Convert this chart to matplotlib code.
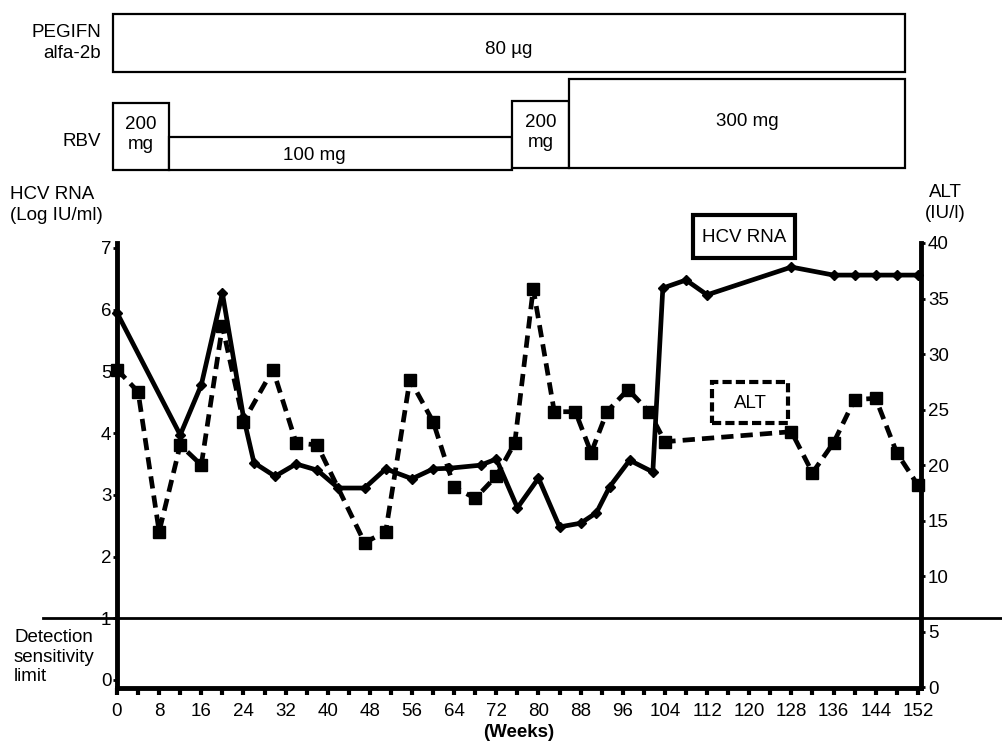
import numpy as np
import matplotlib
matplotlib.use("Agg")
import matplotlib.pyplot as plt
from matplotlib.patches import Rectangle

plt.rcParams['font.family'] = ['Liberation Sans', 'DejaVu Sans']

# ============================================
# DATA
# ============================================

hcv_weeks = [0, 12, 16, 20, 24, 26, 30, 34, 38, 42, 47, 51, 56, 60, 63, 69, 72,
             76, 80, 84, 88, 91, 93.5, 97.3, 101.7, 103.6, 108, 112, 128,
             136, 140, 144, 148, 152]
hcv_log = [5.95, 3.97, 4.78, 6.27, 4.26, 3.52, 3.3, 3.5, 3.4, 3.11, 3.11, 3.42,
           3.26, 3.42, 3.43, 3.48, 3.58, 2.79, 3.27, 2.48, 2.54, 2.71, 3.13,
           3.56, 3.37, 6.35, 6.48, 6.24, 6.69, 6.56, 6.56, 6.56, 6.56, 6.56]

alt_weeks = [0, 4, 8, 12, 16, 20, 24, 29.6, 34, 38, 47, 51, 55.6, 60, 64, 68,
             72, 75.5, 79, 83, 87, 90, 93, 97, 101, 104, 128, 132, 136, 140,
             144, 148, 152]
alt_iu = [28.6, 26.6, 14.0, 21.8, 20.0, 32.5, 23.9, 28.6, 22.0, 21.8, 13.0,
          14.0, 27.7, 23.9, 18.0, 17.0, 19.0, 22.0, 35.9, 24.8, 24.8, 21.1,
          24.8, 26.8, 24.8, 22.1, 23.0, 19.3, 22.0, 25.9, 26.0, 21.1, 18.2]

# treatment periods (weeks)
peg_start, peg_end, peg_label = -0.8, 149.5, '80 µg'
rbv_start = [-0.8, 9.9, 75.0, 85.8]
rbv_end = [9.9, 75.0, 85.8, 149.5]
rbv_labels = ['200\nmg', '100 mg', '200\nmg', '300 mg']

x_ticks = np.arange(0, 153, 8)
x_minor = np.arange(0, 153, 4)
left_ticks = np.arange(0, 8)
right_ticks = np.arange(0, 41, 5)

# ============================================
# FIGURE
# ============================================

W, H = 1002, 751
fig = plt.figure(figsize=(W / 100, H / 100), dpi=100)

def fx(px):
    return px / W

def fy(py):
    return 1 - py / H

fs = 13.5

ax = fig.add_axes([fx(117), fy(688), fx(921) - fx(117), fy(243) - fy(688)])
ax.set_xlim(0, 152.6)
ax.set_ylim(-0.13, 7.08)

ax2 = ax.twinx()
ax2.set_ylim(-0.09, 40)

# lines
ax2.plot(alt_weeks, alt_iu, color='black', lw=3.4, linestyle=(0, (2.6, 1.5)),
         marker='s', markersize=9, zorder=3, clip_on=False)
ax.plot(hcv_weeks, hcv_log, color='black', lw=3.4, marker='D', markersize=5,
        zorder=4, clip_on=False)

# detection limit line
ax.plot([-0.092, 1.1], [1, 1], color='black', lw=2,
        transform=ax.get_yaxis_transform(), clip_on=False)

# spines
for a in (ax, ax2):
    a.spines['top'].set_visible(False)
ax.spines['right'].set_visible(False)
ax2.spines['left'].set_visible(False)
ax2.spines['bottom'].set_visible(False)
ax.spines['left'].set_linewidth(3.5)
ax.spines['bottom'].set_linewidth(3.5)
ax2.spines['right'].set_linewidth(3.5)

ax.set_xticks(x_ticks)
ax.set_xticks(x_minor, minor=True)
ax.tick_params(axis='x', which='both', direction='out', length=5, width=3,
               labelsize=fs, pad=6)
ax.set_yticks(left_ticks)
ax.tick_params(axis='y', direction='out', length=3, width=2, labelsize=fs, pad=1)
ax2.set_yticks(right_ticks)
ax2.tick_params(axis='y', direction='out', length=3, width=2, labelsize=fs, pad=2)

ax.set_xlabel('(Weeks)', fontsize=fs, fontweight='bold', labelpad=3)

# axis titles
fig.text(fx(10), fy(205), 'HCV RNA\n(Log IU/ml)', fontsize=fs, ha='left',
         va='center', linespacing=1.25)
fig.text(fx(945), fy(203), 'ALT\n(IU/l)', fontsize=fs, ha='center',
         va='center', linespacing=1.25)
fig.text(fx(14), fy(657), 'Detection\nsensitivity\nlimit', fontsize=fs,
         ha='left', va='center', linespacing=1.2)

# legend boxes
fig.add_artist(Rectangle((fx(693), fy(258)), fx(795) - fx(693), fy(215) - fy(258),
                         transform=fig.transFigure, fc='white', ec='black', lw=3))
fig.text(fx(744), fy(237), 'HCV RNA', fontsize=fs, ha='center', va='center')
fig.add_artist(Rectangle((fx(712), fy(423)), fx(788) - fx(712), fy(382) - fy(423),
                         transform=fig.transFigure, fc='white', ec='black', lw=3,
                         ls=(0, (2.2, 1.0))))
fig.text(fx(750), fy(403), 'ALT', fontsize=fs, ha='center', va='center')

# ============================================
# TREATMENT BOXES
# ============================================

top = fig.add_axes([fx(117), fy(176), fx(921) - fx(117), fy(8) - fy(176)])
top.set_xlim(ax.get_xlim())
top.set_ylim(176, 8)
top.axis('off')

top.add_patch(Rectangle((peg_start, 14), peg_end - peg_start, 58,
                        fc='white', ec='black', lw=1.6, clip_on=False))
top.text((peg_start + peg_end) / 2, 50, peg_label, fontsize=fs,
         ha='center', va='center')

rbv_top = [103, 137, 101, 79]
rbv_bottom = [170, 170, 168, 168]
for s, e, lab, t, b in zip(rbv_start, rbv_end, rbv_labels, rbv_top, rbv_bottom):
    top.add_patch(Rectangle((s, t), e - s, b - t, fc='white', ec='black',
                            lw=1.6, clip_on=False))
    if '\n' in lab:
        top.text((s + e) / 2, (t + b) / 2 - 2, lab, fontsize=fs,
                 ha='center', va='center', linespacing=1.25)
    elif lab == '100 mg':
        top.text((s + e) / 2 - 5, 155, lab, fontsize=fs, ha='center',
                 va='center')
    else:
        top.text((s + e) / 2 + 2, 121, lab, fontsize=fs, ha='center',
                 va='center')

fig.text(fx(101), fy(43), 'PEGIFN\nalfa-2b', fontsize=fs, ha='right',
         va='center', linespacing=1.25)
fig.text(fx(101), fy(141), 'RBV', fontsize=fs, ha='right', va='center')

fig.savefig('out.png', dpi=100, facecolor='white')
